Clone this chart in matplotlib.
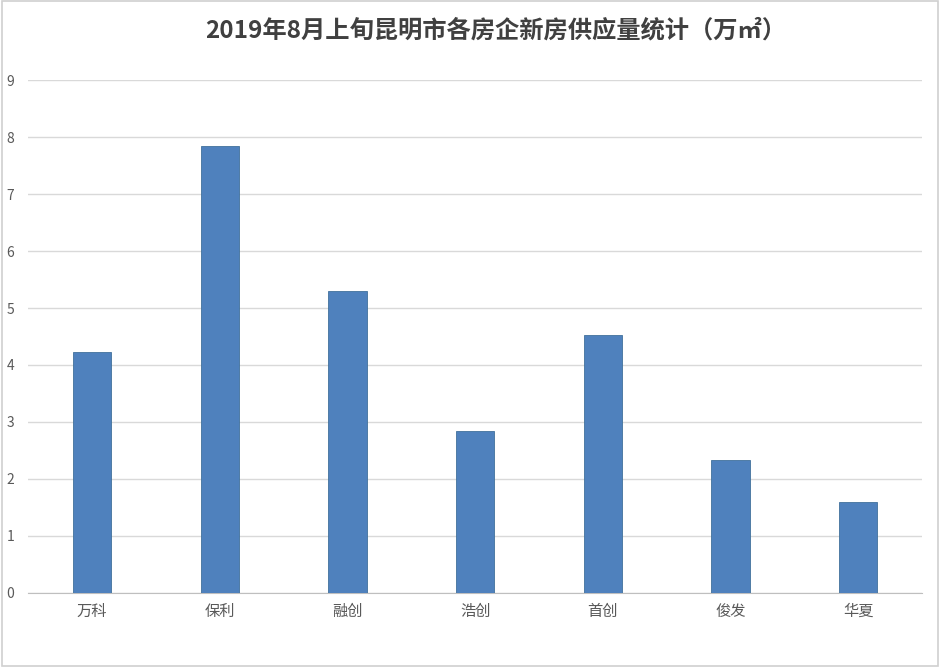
import matplotlib.pyplot as plt
from matplotlib.patches import Rectangle

plt.rcParams['font.family'] = ['Noto Sans CJK SC', 'DejaVu Sans']

companies = ["万科", "保利", "融创", "浩创", "首创", "俊发", "华夏"]
supply = [4.23, 7.84, 5.30, 2.84, 4.52, 2.33, 1.59]
yticks = list(range(0, 10))

fig = plt.figure(figsize=(9.4, 6.67), dpi=100)
ax = fig.add_axes([0.030, 0.111, 0.951, 0.769])

ax.bar(range(len(companies)), supply, width=0.30, color="#4f81bd",
       edgecolor="#41719c", linewidth=0.6, zorder=3)

ax.set_xlim(-0.5, len(companies) - 0.5)
ax.set_ylim(0, 9)
ax.set_yticks(yticks)
ax.set_xticks(range(len(companies)))
ax.set_xticklabels(companies)
ax.tick_params(axis="both", length=0, colors="#595959")
ax.tick_params(axis="y", pad=10, labelsize=10)
ax.tick_params(axis="x", pad=7, labelsize=11)
ax.grid(axis="y", color="#d9d9d9", linewidth=1.0, zorder=0)
for s in ["top", "right", "left"]:
    ax.spines[s].set_visible(False)
ax.spines["bottom"].set_color("#bfbfbf")

fig.text(0.527, 0.955, "2019年8月上旬昆明市各房企新房供应量统计（万㎡）",
         ha="center", va="center", fontsize=17.5, fontweight="bold", color="#404040")

fig.patches.append(Rectangle((0.002, 0.002), 0.996, 0.996, transform=fig.transFigure,
                             fill=False, edgecolor="#d0d0d0", linewidth=1.2))

plt.savefig("out.png", dpi=100)
